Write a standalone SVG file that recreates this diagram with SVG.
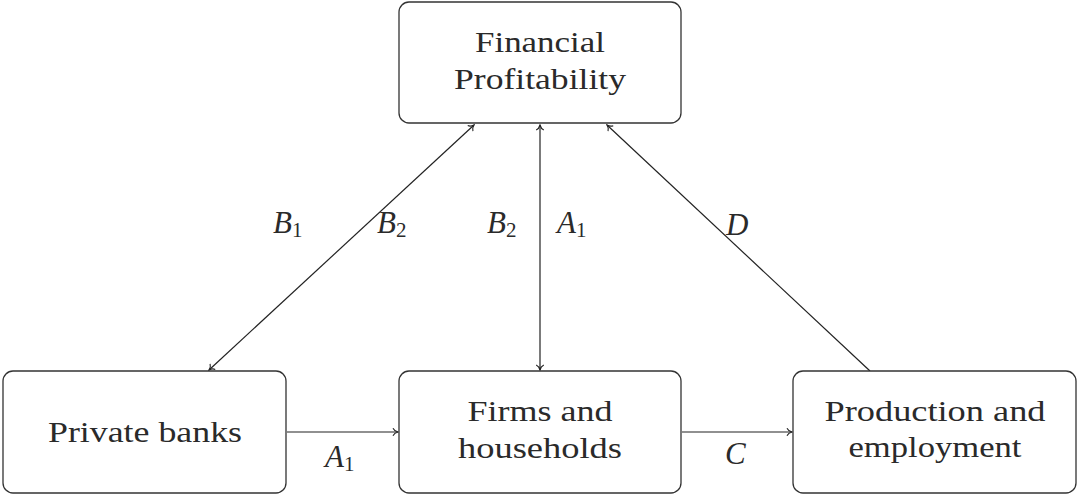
<svg xmlns="http://www.w3.org/2000/svg" width="1078" height="494" viewBox="0 0 1078 494">
<defs>
<style>
.box{fill:#fff;stroke:#333;stroke-width:1.3}
.t{font-family:'Liberation Serif','Times New Roman',Tinos,'Noto Serif',FreeSerif,'DejaVu Serif',serif;font-size:30px;fill:#2a2a2a;text-anchor:middle}
.m{font-family:'Liberation Serif','Times New Roman',Tinos,'Noto Serif',FreeSerif,'DejaVu Serif',serif;font-size:31px;font-style:italic;fill:#2a2a2a}
.s{font-size:21px;font-style:normal}
.c{fill:none;stroke:#222;stroke-width:1.2}
</style>
<marker id="ah" viewBox="-6 -5 7 10" markerWidth="7" markerHeight="10" refX="0" refY="0" orient="auto-start-reverse" markerUnits="userSpaceOnUse">
<path d="M-5,-3.8 C-4,-1.6 -1.5,-0.4 0,0 C-1.5,0.4 -4,1.6 -5,3.8" fill="none" stroke="#222" stroke-width="1.1"/>
</marker>
</defs>
<g id="connectors">
<line class="c" x1="209" y1="370" x2="474" y2="125" marker-start="url(#ah)" marker-end="url(#ah)"/>
<line class="c" x1="540" y1="370" x2="540" y2="125" marker-start="url(#ah)" marker-end="url(#ah)"/>
<line class="c" x1="870" y1="371" x2="607" y2="125" marker-end="url(#ah)"/>
<line class="c" x1="287" y1="432" x2="398" y2="432" marker-end="url(#ah)"/>
<line class="c" x1="682" y1="432" x2="792" y2="432" marker-end="url(#ah)"/>
<text class="m" x="273" y="233">B<tspan class="s" dy="4">1</tspan></text>
<text class="m" x="377" y="233">B<tspan class="s" dy="4">2</tspan></text>
<text class="m" x="487" y="233">B<tspan class="s" dy="4">2</tspan></text>
<text class="m" x="557" y="233">A<tspan class="s" dy="4">1</tspan></text>
<text class="m" x="726" y="235">D</text>
<text class="m" x="325" y="467">A<tspan class="s" dy="4">1</tspan></text>
<text class="m" x="725" y="464">C</text>
</g>
<g id="financial">
<rect class="box" x="399" y="2" width="282" height="121" rx="10"/>
<text class="t" x="540" y="52" textLength="130" lengthAdjust="spacingAndGlyphs">Financial</text>
<text class="t" x="540" y="89" textLength="172" lengthAdjust="spacingAndGlyphs">Profitability</text>
</g>
<g id="banks">
<rect class="box" x="3" y="371" width="283" height="122" rx="10"/>
<text class="t" x="145" y="442" textLength="194" lengthAdjust="spacingAndGlyphs">Private banks</text>
</g>
<g id="firms">
<rect class="box" x="399" y="371" width="282" height="122" rx="10"/>
<text class="t" x="540" y="421" textLength="145" lengthAdjust="spacingAndGlyphs">Firms and</text>
<text class="t" x="540" y="458" textLength="164" lengthAdjust="spacingAndGlyphs">households</text>
</g>
<g id="production">
<rect class="box" x="793" y="371" width="283" height="122" rx="10"/>
<text class="t" x="935" y="421" textLength="221" lengthAdjust="spacingAndGlyphs">Production and</text>
<text class="t" x="935" y="457" textLength="173" lengthAdjust="spacingAndGlyphs">employment</text>
</g>
</svg>
